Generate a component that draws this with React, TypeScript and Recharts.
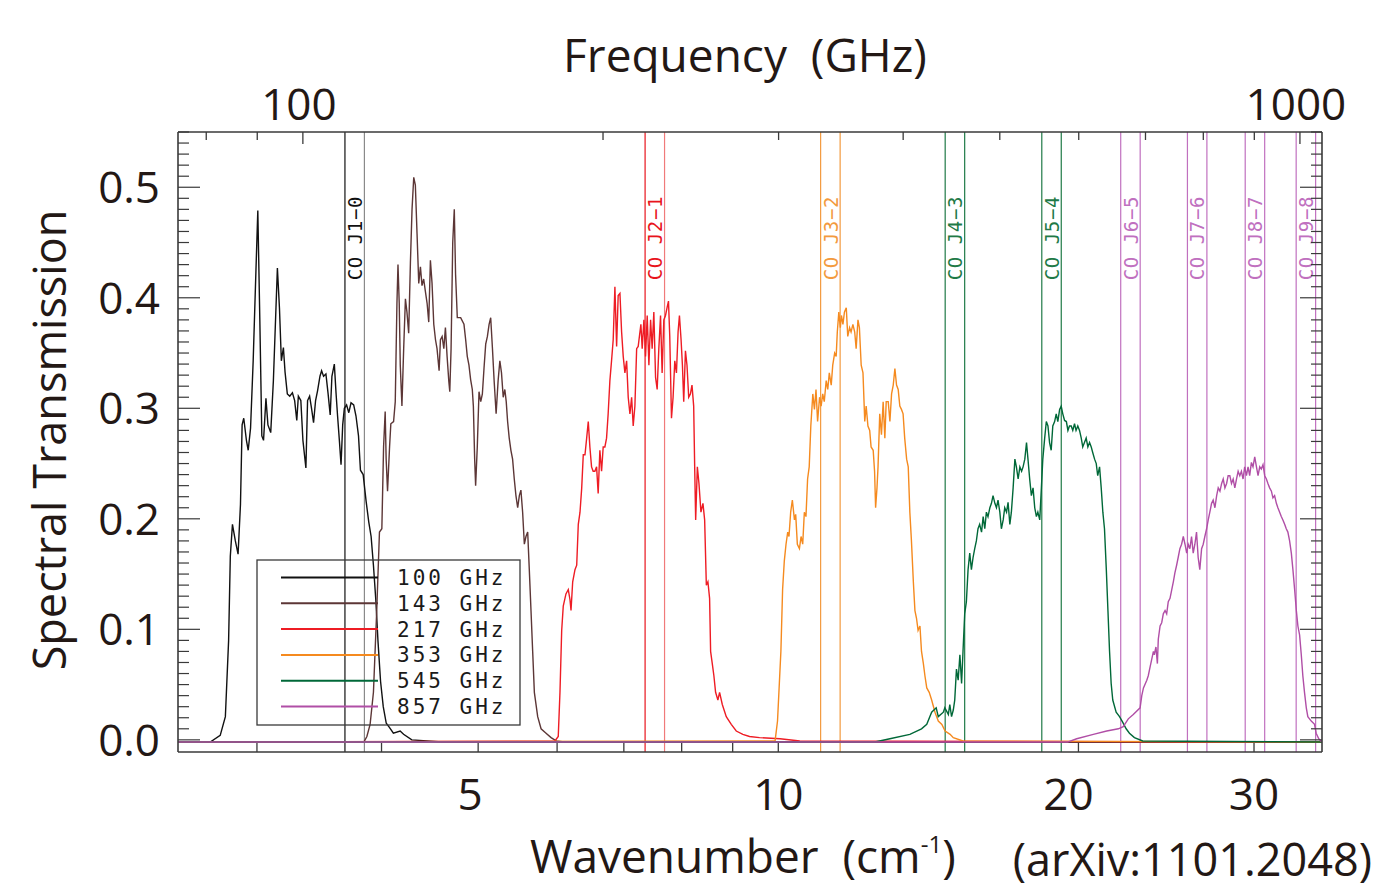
import React from "react";
import { LineChart, Line, XAxis, YAxis, ReferenceLine } from "recharts";

const GHZ_PER_CM = 29.9792458;

const K_MIN = 2.5;
const K_MAX = 35.1;
const T_MIN = -0.011;
const T_MAX = 0.55;

const K_TICKS = [3, 4, 5, 6, 7, 8, 9, 10, 20, 30];
const K_LABELS = [5, 10, 20, 30];
const K_LABEL_SHIFT = [-8, 0, -10, 0];
const GHZ_TICKS = [80, 90, 100, 200, 300, 400, 500, 600, 700, 800, 900, 1000];
const GHZ_LABELS = [100, 1000];
const T_TICKS = Array.from({ length: 56 }, (_, i) => i / 100);
const T_LABELS = ["0.0", "0.1", "0.2", "0.3", "0.4", "0.5"];

// [wavenumber cm^-1, transmission]
const BAND_100: [number, number][] = [
  [2.5, -0.002], [2.693, -0.002], [2.756, 0.004], [2.789, 0.021], [2.81, 0.09], [2.821, 0.166],
  [2.835, 0.195], [2.854, 0.18], [2.872, 0.168], [2.888, 0.213], [2.899, 0.285], [2.91, 0.291],
  [2.928, 0.271], [2.94, 0.262], [2.956, 0.282], [2.974, 0.343], [2.991, 0.416], [3.006, 0.479],
  [3.02, 0.38], [3.034, 0.275], [3.046, 0.271], [3.063, 0.309], [3.077, 0.285], [3.097, 0.278],
  [3.116, 0.325], [3.145, 0.427], [3.16, 0.391], [3.174, 0.343], [3.189, 0.355], [3.201, 0.333],
  [3.218, 0.313], [3.236, 0.311], [3.256, 0.314], [3.273, 0.307], [3.289, 0.289], [3.301, 0.311],
  [3.32, 0.307], [3.336, 0.271], [3.359, 0.246], [3.372, 0.307], [3.388, 0.311], [3.403, 0.3],
  [3.419, 0.287], [3.435, 0.307], [3.451, 0.316], [3.47, 0.329], [3.483, 0.334], [3.499, 0.329],
  [3.518, 0.331], [3.535, 0.314], [3.553, 0.294], [3.567, 0.329], [3.587, 0.34], [3.601, 0.314],
  [3.614, 0.293], [3.629, 0.271], [3.643, 0.249], [3.657, 0.285], [3.671, 0.3], [3.69, 0.303],
  [3.709, 0.296], [3.728, 0.305], [3.751, 0.303], [3.771, 0.293], [3.793, 0.275], [3.81, 0.244],
  [3.834, 0.24], [3.86, 0.216], [3.884, 0.197], [3.905, 0.184], [3.926, 0.158], [3.948, 0.126],
  [3.967, 0.09], [3.991, 0.053], [4.016, 0.03], [4.044, 0.015], [4.075, 0.011], [4.111, 0.006],
  [4.176, 0.008], [4.209, 0.005], [4.29, 0.0], [4.6, -0.002], [35.1, -0.002],
];

const BAND_143: [number, number][] = [
  [2.5, -0.002], [3.84, -0.002], [3.867, 0.003], [3.896, 0.014], [3.926, 0.043], [3.956, 0.117],
  [3.981, 0.188], [4.003, 0.191], [4.019, 0.265], [4.034, 0.297], [4.043, 0.254], [4.056, 0.225],
  [4.075, 0.265], [4.087, 0.286], [4.113, 0.288], [4.129, 0.306], [4.145, 0.395], [4.155, 0.43],
  [4.167, 0.395], [4.177, 0.339], [4.193, 0.302], [4.21, 0.354], [4.227, 0.399], [4.242, 0.387],
  [4.259, 0.368], [4.276, 0.432], [4.292, 0.48], [4.309, 0.509], [4.325, 0.502], [4.342, 0.458],
  [4.359, 0.413], [4.376, 0.428], [4.392, 0.411], [4.409, 0.417], [4.426, 0.406], [4.444, 0.395],
  [4.461, 0.378], [4.478, 0.434], [4.495, 0.413], [4.513, 0.376], [4.531, 0.362], [4.547, 0.354],
  [4.569, 0.334], [4.583, 0.362], [4.601, 0.365], [4.619, 0.354], [4.636, 0.373], [4.654, 0.347],
  [4.672, 0.325], [4.683, 0.315], [4.697, 0.354], [4.715, 0.45], [4.732, 0.48], [4.746, 0.421],
  [4.765, 0.382], [4.802, 0.382], [4.839, 0.376], [4.858, 0.362], [4.876, 0.347], [4.895, 0.339],
  [4.914, 0.326], [4.933, 0.317], [4.945, 0.302], [4.96, 0.254], [4.971, 0.23], [4.99, 0.265],
  [5.01, 0.315], [5.03, 0.306], [5.049, 0.313], [5.068, 0.336], [5.088, 0.358], [5.108, 0.365],
  [5.128, 0.376], [5.147, 0.382], [5.168, 0.354], [5.188, 0.325], [5.212, 0.295], [5.236, 0.325],
  [5.257, 0.343], [5.277, 0.332], [5.298, 0.31], [5.318, 0.317], [5.335, 0.306], [5.352, 0.288],
  [5.372, 0.273], [5.393, 0.262], [5.414, 0.254], [5.435, 0.236], [5.456, 0.221], [5.478, 0.21],
  [5.499, 0.221], [5.519, 0.226], [5.541, 0.206], [5.563, 0.177], [5.584, 0.184], [5.606, 0.188],
  [5.627, 0.154], [5.649, 0.117], [5.671, 0.08], [5.693, 0.043], [5.737, 0.021], [5.782, 0.01],
  [5.849, 0.006], [5.917, 0.002], [5.988, -0.001], [6.1, -0.002], [35.1, -0.002],
];

const BAND_217: [number, number][] = [
  [2.5, -0.002], [5.97, -0.001], [6.016, 0.003], [6.04, 0.043], [6.064, 0.099], [6.086, 0.121],
  [6.124, 0.132], [6.157, 0.136], [6.181, 0.127], [6.196, 0.117], [6.22, 0.143], [6.253, 0.154],
  [6.278, 0.158], [6.301, 0.195], [6.326, 0.206], [6.351, 0.228], [6.374, 0.258], [6.399, 0.258],
  [6.424, 0.273], [6.448, 0.288], [6.472, 0.265], [6.497, 0.247], [6.521, 0.243], [6.547, 0.243],
  [6.573, 0.247], [6.597, 0.223], [6.623, 0.262], [6.649, 0.243], [6.674, 0.265], [6.7, 0.265],
  [6.726, 0.273], [6.751, 0.295], [6.778, 0.325], [6.804, 0.343], [6.83, 0.362], [6.857, 0.41],
  [6.884, 0.356], [6.909, 0.402], [6.937, 0.404], [6.964, 0.369], [6.99, 0.347], [7.017, 0.332],
  [7.045, 0.343], [7.071, 0.31], [7.099, 0.295], [7.127, 0.31], [7.153, 0.284], [7.181, 0.302],
  [7.21, 0.354], [7.236, 0.356], [7.265, 0.369], [7.281, 0.376], [7.303, 0.354], [7.332, 0.38],
  [7.36, 0.347], [7.388, 0.384], [7.417, 0.339], [7.446, 0.38], [7.473, 0.354], [7.502, 0.387],
  [7.532, 0.328], [7.56, 0.317], [7.589, 0.354], [7.619, 0.384], [7.647, 0.332], [7.677, 0.38],
  [7.707, 0.384], [7.735, 0.391], [7.76, 0.397], [7.783, 0.365], [7.814, 0.291], [7.843, 0.31],
  [7.874, 0.343], [7.904, 0.332], [7.934, 0.369], [7.959, 0.384], [7.989, 0.362], [8.014, 0.339],
  [8.038, 0.306], [8.07, 0.352], [8.099, 0.339], [8.131, 0.31], [8.163, 0.313], [8.193, 0.321],
  [8.225, 0.302], [8.244, 0.247], [8.263, 0.199], [8.295, 0.247], [8.326, 0.232], [8.364, 0.206],
  [8.403, 0.214], [8.436, 0.199], [8.469, 0.14], [8.5, 0.143], [8.533, 0.128], [8.553, 0.08],
  [8.586, 0.069], [8.618, 0.058], [8.652, 0.043], [8.698, 0.036], [8.732, 0.043], [8.787, 0.032],
  [8.868, 0.021], [8.971, 0.014], [9.075, 0.008], [9.214, 0.005], [9.357, 0.003], [9.575, 0.002],
  [10.04, 0.001], [10.51, -0.001], [35.1, -0.002],
];

const BAND_353: [number, number][] = [
  [2.5, -0.002], [9.926, -0.001], [9.982, 0.017], [10.06, 0.08], [10.1, 0.136], [10.14, 0.162],
  [10.18, 0.177], [10.22, 0.188], [10.25, 0.184], [10.29, 0.206], [10.33, 0.217], [10.38, 0.199],
  [10.41, 0.204], [10.45, 0.177], [10.5, 0.173], [10.54, 0.184], [10.58, 0.177], [10.62, 0.206],
  [10.66, 0.202], [10.7, 0.236], [10.74, 0.247], [10.78, 0.284], [10.83, 0.313], [10.87, 0.299],
  [10.91, 0.317], [10.95, 0.288], [11.0, 0.31], [11.04, 0.302], [11.08, 0.313], [11.12, 0.306],
  [11.17, 0.325], [11.21, 0.317], [11.25, 0.332], [11.3, 0.321], [11.34, 0.339], [11.39, 0.35],
  [11.43, 0.347], [11.46, 0.369], [11.5, 0.387], [11.54, 0.373], [11.57, 0.384], [11.61, 0.376],
  [11.65, 0.387], [11.7, 0.391], [11.74, 0.365], [11.79, 0.373], [11.83, 0.369], [11.88, 0.376],
  [11.93, 0.369], [11.97, 0.354], [12.02, 0.38], [12.06, 0.373], [12.11, 0.339], [12.16, 0.332],
  [12.21, 0.288], [12.25, 0.302], [12.3, 0.284], [12.35, 0.28], [12.39, 0.265], [12.45, 0.262],
  [12.49, 0.243], [12.52, 0.21], [12.56, 0.228], [12.59, 0.247], [12.64, 0.295], [12.69, 0.276],
  [12.74, 0.306], [12.79, 0.273], [12.83, 0.306], [12.89, 0.306], [12.94, 0.288], [12.99, 0.313],
  [13.04, 0.321], [13.09, 0.336], [13.14, 0.321], [13.19, 0.317], [13.24, 0.302], [13.29, 0.299],
  [13.34, 0.295], [13.39, 0.273], [13.45, 0.254], [13.5, 0.247], [13.55, 0.206], [13.6, 0.18],
  [13.66, 0.143], [13.71, 0.117], [13.76, 0.11], [13.81, 0.099], [13.87, 0.103], [13.92, 0.08],
  [13.98, 0.069], [14.03, 0.058], [14.09, 0.047], [14.17, 0.043], [14.25, 0.036], [14.36, 0.025],
  [14.47, 0.017], [14.59, 0.014], [14.7, 0.008], [14.87, 0.005], [14.98, 0.002], [15.32, -0.001],
  [35.1, -0.002],
];

const BAND_545: [number, number][] = [
  [2.5, -0.002], [12.5, -0.002], [12.94, 0.001], [13.55, 0.005], [13.92, 0.01], [14.09, 0.014],
  [14.25, 0.025], [14.4, 0.029], [14.47, 0.021], [14.64, 0.025], [14.69, 0.029], [14.81, 0.023],
  [14.86, 0.032], [14.92, 0.021], [14.98, 0.027], [15.03, 0.036], [15.09, 0.064], [15.15, 0.054],
  [15.21, 0.077], [15.27, 0.051], [15.32, 0.08], [15.38, 0.114], [15.44, 0.125], [15.5, 0.154],
  [15.56, 0.169], [15.62, 0.154], [15.68, 0.165], [15.74, 0.173], [15.8, 0.18], [15.86, 0.191],
  [15.92, 0.195], [15.99, 0.188], [16.05, 0.202], [16.11, 0.191], [16.17, 0.206], [16.23, 0.202],
  [16.3, 0.21], [16.36, 0.214], [16.42, 0.221], [16.49, 0.214], [16.55, 0.21], [16.61, 0.217],
  [16.68, 0.206], [16.74, 0.191], [16.81, 0.199], [16.87, 0.21], [16.94, 0.206], [17.0, 0.215],
  [17.07, 0.195], [17.13, 0.206], [17.2, 0.228], [17.27, 0.254], [17.33, 0.247], [17.4, 0.236],
  [17.47, 0.247], [17.54, 0.243], [17.6, 0.247], [17.67, 0.254], [17.74, 0.269], [17.8, 0.254],
  [17.87, 0.236], [17.94, 0.221], [18.01, 0.228], [18.08, 0.21], [18.15, 0.202], [18.21, 0.206],
  [18.29, 0.199], [18.36, 0.228], [18.42, 0.254], [18.5, 0.273], [18.57, 0.288], [18.64, 0.284],
  [18.71, 0.269], [18.78, 0.262], [18.85, 0.284], [18.93, 0.288], [19.0, 0.295], [19.07, 0.288],
  [19.15, 0.299], [19.22, 0.302], [19.29, 0.295], [19.37, 0.289], [19.45, 0.288], [19.52, 0.28],
  [19.59, 0.284], [19.67, 0.284], [19.74, 0.28], [19.82, 0.286], [19.89, 0.28], [19.97, 0.284],
  [20.05, 0.28], [20.13, 0.273], [20.2, 0.265], [20.28, 0.269], [20.36, 0.273], [20.44, 0.265],
  [20.52, 0.269], [20.6, 0.265], [20.67, 0.26], [20.76, 0.254], [20.84, 0.25], [20.91, 0.239],
  [21.0, 0.247], [21.08, 0.228], [21.16, 0.206], [21.24, 0.191], [21.33, 0.154], [21.41, 0.117],
  [21.49, 0.08], [21.57, 0.051], [21.65, 0.036], [21.82, 0.025], [21.99, 0.021], [22.15, 0.016],
  [22.33, 0.01], [22.5, 0.006], [22.76, 0.002], [23.2, -0.001], [35.1, -0.002],
];

const BAND_857: [number, number][] = [
  [2.5, -0.002], [19.5, -0.002], [19.92, 0.001], [20.7, 0.005], [21.35, 0.008], [21.93, 0.01],
  [22.18, 0.012], [22.44, 0.019], [22.7, 0.023], [23.06, 0.029], [23.15, 0.04], [23.24, 0.047],
  [23.42, 0.054], [23.5, 0.058], [23.6, 0.066], [23.69, 0.073], [23.78, 0.08], [23.83, 0.077],
  [23.92, 0.084], [24.0, 0.069], [24.05, 0.091], [24.15, 0.103], [24.24, 0.106], [24.33, 0.114],
  [24.43, 0.117], [24.52, 0.114], [24.61, 0.125], [24.71, 0.128], [24.81, 0.136], [24.9, 0.143],
  [24.99, 0.151], [25.09, 0.158], [25.18, 0.165], [25.28, 0.173], [25.38, 0.177], [25.48, 0.184],
  [25.58, 0.177], [25.68, 0.169], [25.77, 0.177], [25.87, 0.173], [25.97, 0.184], [26.07, 0.169],
  [26.17, 0.177], [26.27, 0.188], [26.37, 0.165], [26.47, 0.154], [26.58, 0.173], [26.68, 0.177],
  [26.78, 0.184], [26.89, 0.191], [26.99, 0.199], [27.09, 0.206], [27.2, 0.214], [27.3, 0.217],
  [27.41, 0.21], [27.52, 0.221], [27.62, 0.228], [27.73, 0.225], [27.84, 0.232], [27.94, 0.236],
  [28.05, 0.228], [28.16, 0.232], [28.26, 0.239], [28.37, 0.239], [28.48, 0.232], [28.59, 0.236],
  [28.7, 0.228], [28.81, 0.236], [28.92, 0.243], [29.03, 0.239], [29.14, 0.243], [29.25, 0.236],
  [29.36, 0.247], [29.48, 0.239], [29.59, 0.247], [29.7, 0.239], [29.82, 0.251], [29.93, 0.247],
  [30.05, 0.256], [30.17, 0.247], [30.28, 0.239], [30.4, 0.247], [30.51, 0.245], [30.63, 0.249],
  [30.75, 0.239], [30.87, 0.236], [30.98, 0.232], [31.1, 0.228], [31.23, 0.225], [31.34, 0.219],
  [31.46, 0.221], [31.59, 0.214], [31.7, 0.21], [31.83, 0.206], [31.95, 0.202], [32.07, 0.199],
  [32.2, 0.195], [32.32, 0.191], [32.44, 0.188], [32.57, 0.18], [32.7, 0.169], [32.82, 0.154],
  [32.95, 0.136], [33.08, 0.117], [33.2, 0.103], [33.33, 0.095], [33.46, 0.077], [33.58, 0.058],
  [33.71, 0.043], [33.85, 0.029], [33.97, 0.021], [34.24, 0.017], [34.5, 0.014], [34.63, 0.006],
  [34.84, 0.001], [35.1, -0.002],
];

const BAND_NAMES = ["100 GHz", "143 GHz", "217 GHz", "353 GHz", "545 GHz", "857 GHz"];
const BAND_COLORS = ["#111111", "#5c3636", "#ee1c24", "#f58a1f", "#006838", "#b04ea6"];
const BANDS = [BAND_100, BAND_143, BAND_217, BAND_353, BAND_545, BAND_857];

// CO rotational lines (13CO and 12CO), cm^-1
const CO_LABELS = ["CO J1−0", "CO J2−1", "CO J3−2", "CO J4−3", "CO J5−4", "CO J6−5", "CO J7−6", "CO J8−7", "CO J9−8"];
const CO13_K = [3.676, 7.352, 11.027, 14.702, 18.377, 22.051, 25.724, 29.396, 33.067];
const CO12_K = [3.845, 7.69, 11.535, 15.379, 19.222, 23.065, 26.907, 30.748, 34.587];
const CO_COLORS = ["#111111", "#e8141c", "#f39a3e", "#1f7a47", "#1f7a47", "#c070bf", "#c070bf", "#c070bf", "#c070bf"];
const CO12_COLORS = ["#8a8a8a", "#f07a7a", "#f39a3e", "#1f7a47", "#1f7a47", "#c070bf", "#c070bf", "#c070bf", "#c070bf"];

const FONT = "'Open Sans', 'Noto Sans', sans-serif";
const MONO = "'DejaVu Sans Mono', monospace";
const INK = "#231815";
const AXIS = "#3a3a3a";

const bottomTick = (props: any) => {
  const { x, y, payload } = props;
  const idx = K_LABELS.findIndex((l) => Math.abs(l - payload.value) < 1e-6);
  return (
    <g>
      <line x1={x} x2={x} y1={y} y2={y - 9} stroke={AXIS} strokeWidth={1.3} />
      {idx >= 0 && (
        <text x={x + K_LABEL_SHIFT[idx]} y={y + 58} textAnchor="middle" fontSize={44} fontFamily={FONT} fill={INK}>
          {K_LABELS[idx]}
        </text>
      )}
    </g>
  );
};

const topTick = (props: any) => {
  const { x, y, payload } = props;
  const ghz = Math.round(payload.value * GHZ_PER_CM);
  const major = GHZ_LABELS.includes(ghz);
  return (
    <g>
      <line x1={x} x2={x} y1={y} y2={y + (major ? 12 : 8)} stroke={AXIS} strokeWidth={1.3} />
      {major && (
        <text x={x - 4} y={y - 12} textAnchor="middle" fontSize={44} fontFamily={FONT} fill={INK}>
          {ghz}
        </text>
      )}
    </g>
  );
};

const leftTick = (props: any) => {
  const { x, y, payload } = props;
  const pct = Math.round(payload.value * 100);
  const major = pct % 10 === 0;
  return (
    <g>
      <line x1={x} x2={x + (major ? 22 : 11)} y1={y} y2={y} stroke={AXIS} strokeWidth={1.2} />
      {major && (
        <text x={x - 18} y={y + 16} textAnchor="end" fontSize={44} fontFamily={FONT} fill={INK}>
          {T_LABELS[pct / 10]}
        </text>
      )}
    </g>
  );
};

const rightTick = (props: any) => {
  const { x, y, payload } = props;
  const major = Math.round(payload.value * 100) % 10 === 0;
  return <line x1={x} x2={x - (major ? 22 : 11)} y1={y} y2={y} stroke={AXIS} strokeWidth={1.2} />;
};

const coLabel = (text: string, color: string) => (props: any) => {
  const vb = props.viewBox || {};
  const tx = (vb.x ?? 0) + 17;
  const ty = (vb.y ?? 0) + 64;
  return (
    <text
      x={tx}
      y={ty}
      transform={`rotate(-90 ${tx} ${ty})`}
      textAnchor="end"
      fontSize={19}
      letterSpacing={0.6}
      fontFamily={MONO}
      fill={color}
    >
      {text}
    </text>
  );
};

export default function App() {
  const axisLine = { stroke: AXIS, strokeWidth: 1.6 };
  return (
    <div style={{ position: "absolute", left: 0, top: 0, width: 1376, height: 889, background: "#fff", overflow: "hidden" }}>
      <LineChart width={1376} height={889} margin={{ top: 72, right: 44, bottom: 77, left: 78 }}>
        <XAxis
          xAxisId="k"
          dataKey="k"
          type="number"
          scale="log"
          domain={[K_MIN, K_MAX]}
          allowDataOverflow
          ticks={K_TICKS}
          interval={0}
          tickSize={0}
          tickMargin={0}
          tickLine={false}
          tick={bottomTick}
          axisLine={axisLine}
          height={60}
        />
        <XAxis
          xAxisId="top"
          orientation="top"
          dataKey="k"
          type="number"
          scale="log"
          domain={[K_MIN, K_MAX]}
          allowDataOverflow
          ticks={GHZ_TICKS.map((f) => f / GHZ_PER_CM)}
          interval={0}
          tickSize={0}
          tickMargin={0}
          tickLine={false}
          tick={topTick}
          axisLine={axisLine}
          height={60}
        />
        <YAxis
          yAxisId="t"
          type="number"
          domain={[T_MIN, T_MAX]}
          allowDataOverflow
          ticks={T_TICKS}
          interval={0}
          tickSize={0}
          tickMargin={0}
          tickLine={false}
          tick={leftTick}
          axisLine={axisLine}
          width={100}
        />
        <YAxis
          yAxisId="r"
          orientation="right"
          type="number"
          domain={[T_MIN, T_MAX]}
          allowDataOverflow
          ticks={T_TICKS}
          interval={0}
          tickSize={0}
          tickMargin={0}
          tickLine={false}
          tick={rightTick}
          axisLine={axisLine}
          width={10}
        />
        {CO13_K.map((k, i) => (
          <ReferenceLine
            key={`co13-${i}`}
            xAxisId="k"
            yAxisId="t"
            x={k}
            stroke={CO_COLORS[i]}
            strokeWidth={1.2}
            label={coLabel(CO_LABELS[i], CO_COLORS[i])}
          />
        ))}
        {CO12_K.map((k, i) => (
          <ReferenceLine key={`co12-${i}`} xAxisId="k" yAxisId="t" x={k} stroke={CO12_COLORS[i]} strokeWidth={1.2} />
        ))}
        {BANDS.map((band, i) => (
          <Line
            key={BAND_NAMES[i]}
            xAxisId="k"
            yAxisId="t"
            data={band.map(([k, t]) => ({ k, t }))}
            dataKey="t"
            name={BAND_NAMES[i]}
            type="linear"
            stroke={BAND_COLORS[i]}
            strokeWidth={1.4}
            dot={false}
            activeDot={false}
            isAnimationActive={false}
          />
        ))}
      </LineChart>
      <svg width={1376} height={889} style={{ position: "absolute", left: 0, top: 0, pointerEvents: "none" }}>
        <text x={745} y={72} textAnchor="middle" fontSize={46} fontFamily={FONT} fill={INK} style={{ whiteSpace: "pre" }}>
          {"Frequency  (GHz)"}
        </text>
        <text
          x={66}
          y={440}
          transform="rotate(-90 66 440)"
          textAnchor="middle"
          fontSize={45}
          fontFamily={FONT}
          fill={INK}
        >
          Spectral Transmission
        </text>
        <text x={530} y={873} fontSize={46} fontFamily={FONT} fill={INK} style={{ whiteSpace: "pre" }}>
          {"Wavenumber  (cm"}
          <tspan fontSize={24} dy={-20}>-1</tspan>
          <tspan dy={20}>)</tspan>
        </text>
        <text x={1372} y={876} textAnchor="end" fontSize={45} fontFamily={FONT} fill={INK}>
          (arXiv:1101.2048)
        </text>
        <rect x={257} y={560} width={263} height={165} fill="none" stroke={AXIS} strokeWidth={1.3} />
        {BAND_NAMES.map((name, i) => {
          const ry = 577.5 + i * 25.8;
          return (
            <g key={name}>
              <line x1={281} x2={378} y1={ry} y2={ry} stroke={BAND_COLORS[i]} strokeWidth={2} />
              <text x={397} y={ry + 7.5} fontSize={21} letterSpacing={3} fontFamily={MONO} fill="#1a1a1a" style={{ whiteSpace: "pre" }}>
                {name}
              </text>
            </g>
          );
        })}
      </svg>
    </div>
  );
}
